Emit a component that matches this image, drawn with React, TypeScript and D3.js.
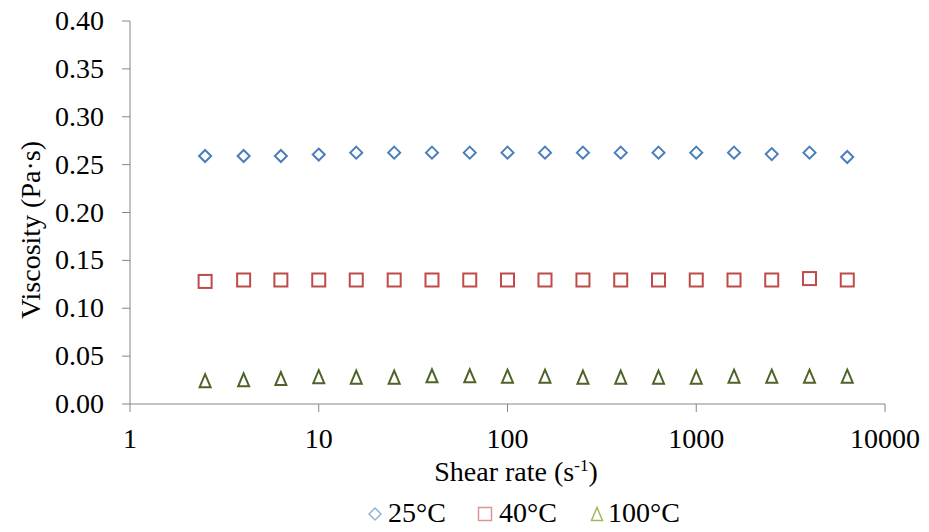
import React from "react";
import * as d3 from "d3";

const shearRates = [2.5, 4, 6.3, 10, 15.8, 25.1, 39.8, 63.1, 100, 158, 251, 398, 631, 1000, 1585, 2512, 3981, 6310];
const visc25 = [0.259, 0.259, 0.259, 0.2605, 0.2625, 0.2625, 0.2625, 0.2625, 0.2625, 0.2625, 0.2625, 0.2625, 0.2625, 0.2625, 0.2625, 0.261, 0.2625, 0.258];
const visc40 = [0.128, 0.1295, 0.1295, 0.1295, 0.1295, 0.1295, 0.1295, 0.1295, 0.1295, 0.1295, 0.1295, 0.1295, 0.1295, 0.1295, 0.1295, 0.1295, 0.131, 0.1295];
const visc100 = [0.0243, 0.0253, 0.0266, 0.0285, 0.028, 0.028, 0.0294, 0.0294, 0.029, 0.029, 0.028, 0.028, 0.028, 0.028, 0.029, 0.029, 0.029, 0.029];
const yTicks = [0, 0.05, 0.1, 0.15, 0.2, 0.25, 0.3, 0.35, 0.4];
const xTicks = [1, 10, 100, 1000, 10000];
const seriesNames = ["25°C", "40°C", "100°C"];
const seriesColors = ["#4A7EBB", "#BE4B48", "#4F6228"];
const legendColors = ["#95B3D7", "#D99694", "#9BBB59"];

const W = 929, H = 532;
const left = 130, right = 885, top = 21, bottom = 404;
const axisColor = "#868686";
const FF = "Liberation Serif";

function Marker({ kind, x, y, color, size = 1, sw = 2 }: { kind: number; x: number; y: number; color: string; size?: number; sw?: number }) {
  if (kind === 0) {
    const r = 6 * size;
    return <path d={`M${x},${y - r}L${x + r},${y}L${x},${y + r}L${x - r},${y}Z`} fill="none" stroke={color} strokeWidth={sw} />;
  }
  if (kind === 1) {
    const r = 6.5 * size;
    return <rect x={x - r} y={y - r} width={2 * r} height={2 * r} fill="none" stroke={color} strokeWidth={sw} />;
  }
  const w = 5.5 * size, h = 6.5 * size;
  return <path d={`M${x},${y - h}L${x + w},${y + h}L${x - w},${y + h}Z`} fill="none" stroke={color} strokeWidth={sw} strokeLinejoin="miter" />;
}

function T(props: any) {
  const { children, size = 28, ...rest } = props;
  return (
    <text {...rest} fontFamily={FF} fontSize={size} style={{ fontFamily: FF, fontSize: size + "px" }} fill="#000">
      {children}
    </text>
  );
}

export default function App() {
  const x = d3.scaleLog().domain([1, 10000]).range([left, right]);
  const y = d3.scaleLinear().domain([0, 0.4]).range([bottom, top]);
  const series = [visc25, visc40, visc100];
  const legendX = [375, 485, 597];
  const legendTextX = [388, 499, 608];

  return (
    <svg width={W} height={H} style={{ position: "absolute", left: 0, top: 0, background: "#fff" }}>
      <line x1={left} x2={left} y1={top} y2={bottom} stroke={axisColor} strokeWidth={1} />
      {yTicks.map((t) => (
        <g key={t}>
          <line x1={left - 8} x2={left} y1={y(t)} y2={y(t)} stroke={axisColor} />
          <T x={104} y={y(t) + 9} textAnchor="end">
            {d3.format(".2f")(t)}
          </T>
        </g>
      ))}
      <line x1={left} x2={right} y1={bottom} y2={bottom} stroke={axisColor} strokeWidth={1} />
      {xTicks.map((t) => (
        <g key={t}>
          <line x1={x(t)} x2={x(t)} y1={bottom} y2={bottom + 8} stroke={axisColor} />
          <T x={x(t)} y={448} textAnchor="middle">
            {t}
          </T>
        </g>
      ))}
      <T x={516} y={481} textAnchor="middle">
        Shear rate (s<tspan dy={-10} fontSize={17} style={{ fontSize: "17px" }}>-1</tspan><tspan dy={10}>)</tspan>
      </T>
      <T transform={`translate(40,230) rotate(-90)`} textAnchor="middle">
        Viscosity (Pa·s)
      </T>
      {series.map((vals, si) => (
        <g key={si}>
          {vals.map((v, i) => (
            <Marker key={i} kind={si} x={x(shearRates[i])} y={y(v)} color={seriesColors[si]} />
          ))}
        </g>
      ))}
      {seriesNames.map((n, i) => (
        <g key={n}>
          <Marker kind={i} x={legendX[i]} y={514} color={legendColors[i]} size={1} sw={1.5} />
          <T x={legendTextX[i]} y={522}>
            {n}
          </T>
        </g>
      ))}
    </svg>
  );
}
